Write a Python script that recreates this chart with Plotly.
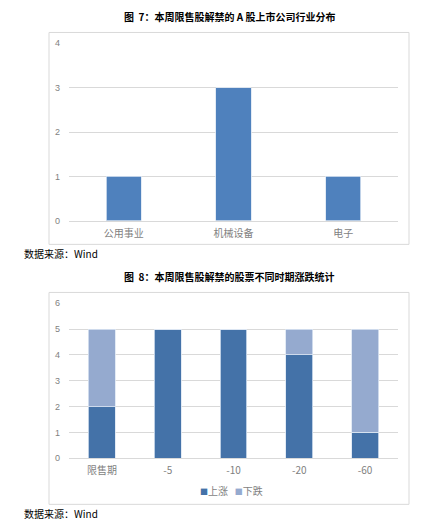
import plotly.graph_objects as go

# ---- data ----
industries = ["公用事业", "机械设备", "电子"]
industry_counts = [1, 3, 1]

periods = ["限售期", "-5", "-10", "-20", "-60"]
up_counts = [2, 5, 5, 4, 1]
down_counts = [3, 0, 0, 1, 4]
series_names = ["上涨", "下跌"]

title1 = "图&nbsp;&nbsp;7：本周限售股解禁的 A 股上市公司行业分布"
title2 = "图&nbsp;&nbsp;8：本周限售股解禁的股票不同时期涨跌统计"
source_text = "数据来源：Wind"

W, H = 438, 527
def px(x): return x / W
def py(y): return 1 - y / H

FONT = "Noto Sans CJK SC"
GRID = "#D9D9D9"
TICK = "#7F7F7F"
UP_COLOR = "#4472A8"
DOWN_COLOR = "#95AACF"

fig = go.Figure()

fig.add_trace(go.Bar(
    x=industries, y=industry_counts, xaxis="x", yaxis="y",
    marker=dict(color="#4F81BD", line=dict(color="#DCE6F2", width=0.8)),
    width=0.32, showlegend=False,
))

fig.add_trace(go.Bar(
    x=periods, y=up_counts, xaxis="x2", yaxis="y2", name=series_names[0],
    marker=dict(color=UP_COLOR, line=dict(color="#DCE6F2", width=0.8)),
    width=0.41, showlegend=False,
))
fig.add_trace(go.Bar(
    x=periods, y=down_counts, xaxis="x2", yaxis="y2", name=series_names[1],
    marker=dict(color=DOWN_COLOR, line=dict(color="#DCE6F2", width=0.8)),
    width=0.41, showlegend=False,
))

axis_common = dict(showgrid=False, showline=True, linecolor=GRID, linewidth=1,
                   ticks="", tickfont=dict(family=FONT, size=10, color=TICK),
                   ticklabelstandoff=3, fixedrange=True)
yaxis_common = dict(showgrid=True, gridcolor=GRID, gridwidth=1, zeroline=False,
                    showline=False, ticks="", dtick=1,
                    tickfont=dict(family="Liberation Sans", size=9, color=TICK),
                    ticklabelstandoff=8, fixedrange=True)

legend_text = ('<span style="color:%s;font-size:8px">■</span>%s&nbsp;&nbsp;&nbsp;'
               '<span style="color:%s;font-size:8px">■</span>%s'
               % (UP_COLOR, series_names[0], DOWN_COLOR, series_names[1]))

fig.update_layout(
    width=W, height=H,
    margin=dict(l=0, r=0, t=0, b=0),
    paper_bgcolor="white", plot_bgcolor="white",
    barmode="stack",
    font=dict(family=FONT, color=TICK),
    xaxis=dict(domain=[px(69), px(398)], anchor="y", **axis_common),
    yaxis=dict(domain=[py(220), py(39)], range=[0, 4], anchor="x", **yaxis_common),
    xaxis2=dict(domain=[px(69), px(398)], anchor="y2", **axis_common),
    yaxis2=dict(domain=[py(462), py(304)], range=[0, 6], anchor="x2", **yaxis_common),
    showlegend=False,
    shapes=[
        dict(type="rect", xref="paper", yref="paper",
             x0=px(49), x1=px(409), y0=py(244), y1=py(28),
             line=dict(color=GRID, width=1), fillcolor="rgba(0,0,0,0)", layer="below"),
        dict(type="rect", xref="paper", yref="paper",
             x0=px(49), x1=px(409), y0=py(509), y1=py(293),
             line=dict(color=GRID, width=1), fillcolor="rgba(0,0,0,0)", layer="below"),
    ],
    annotations=[
        dict(text="<b>" + title1 + "</b>", xref="paper", yref="paper",
             x=px(229), y=py(12), xanchor="center", yanchor="middle", showarrow=False,
             font=dict(family=FONT, size=10, color="black")),
        dict(text="<b>" + title2 + "</b>", xref="paper", yref="paper",
             x=px(229), y=py(277), xanchor="center", yanchor="middle", showarrow=False,
             font=dict(family=FONT, size=10, color="black")),
        dict(text=source_text, xref="paper", yref="paper",
             x=px(22), y=py(253), xanchor="left", yanchor="middle", showarrow=False,
             font=dict(family=FONT, size=10, color="black")),
        dict(text=source_text, xref="paper", yref="paper",
             x=px(22), y=py(518), xanchor="left", yanchor="middle", showarrow=False,
             font=dict(family=FONT, size=10, color="black")),
        dict(text=legend_text, xref="paper", yref="paper",
             x=px(231), y=py(495), xanchor="center", yanchor="middle", showarrow=False,
             font=dict(family=FONT, size=10, color=TICK)),
    ],
)

fig.write_html("out.html", config={"displayModeBar": False},
               post_script="document.body.style.margin='0';document.body.style.padding='0';")
